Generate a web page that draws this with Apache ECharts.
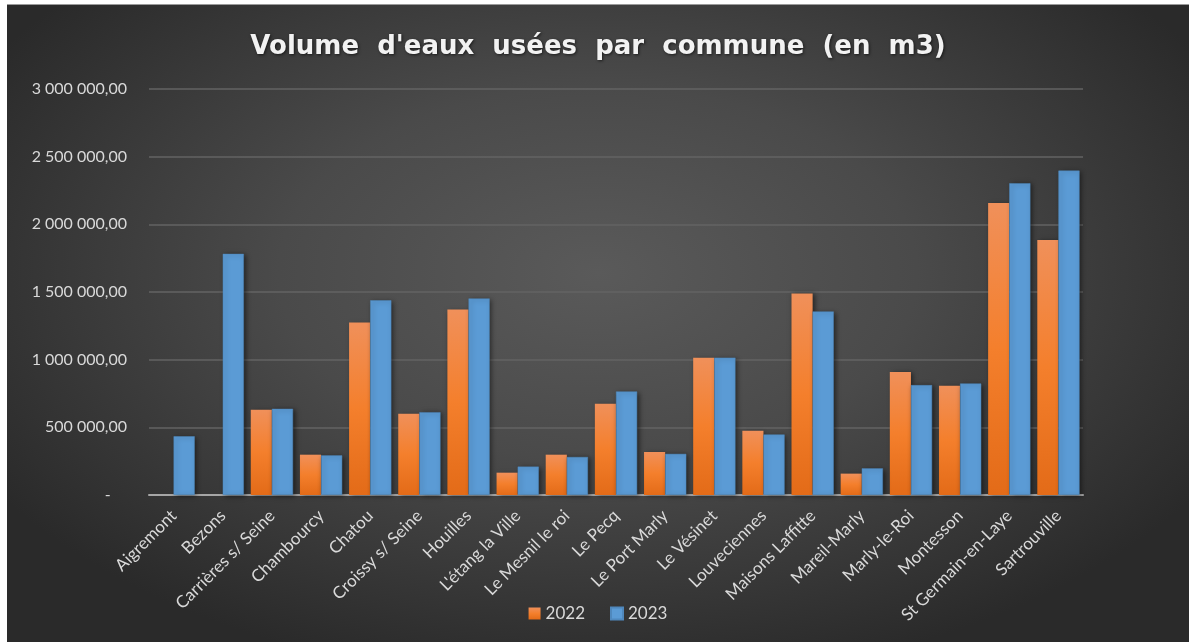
<!DOCTYPE html>
<html>
<head>
<meta charset="utf-8">
<script src="https://cdn.jsdelivr.net/npm/echarts@6/dist/echarts.min.js"></script>
<style>
  html, body { margin: 0; padding: 0; background: #fff; }
  #chart {
    position: absolute; left: 7px; top: 4px; width: 1182px; height: 638px;
    border-top: 1px solid #9a9a9a;
    background: radial-gradient(ellipse 60% 65% at 50% 42%, #5a5a5a 0%, #4a4a4a 45%, #2a2a2a 100%);
  }
</style>
</head>
<body>
<div id="chart"></div>
<script>
const communes = ['Aigremont', 'Bezons', 'Carrières s/ Seine', 'Chambourcy', 'Chatou', 'Croissy s/ Seine',
  'Houilles', "L'étang la Ville", 'Le Mesnil le roi', 'Le Pecq', 'Le Port Marly', 'Le Vésinet',
  'Louveciennes', 'Maisons Laffitte', 'Mareil-Marly', 'Marly-le-Roi', 'Montesson',
  'St Germain-en-Laye', 'Sartrouville']
const v2022 = [null, null, 630000, 298000, 1274000, 600000, 1370000, 165000, 298000, 674000,
  318000, 1015000, 474000, 1489000, 158000, 908000, 807000, 2158000, 1884000]
const v2023 = [434000, 1782000, 637000, 293000, 1439000, 612000, 1452000, 210000, 281000, 765000,
  304000, 1015000, 447000, 1356000, 197000, 812000, 824000, 2304000, 2397000]
const yTicks = [0, 500000, 1000000, 1500000, 2000000, 2500000, 3000000]

function fmt(v) {
  if (v === 0) return '-    '
  return String(v).replace(/\B(?=(\d{3})+(?!\d))/g, ' ') + ',00'
}

const chart = echarts.init(document.getElementById('chart'))
const shadow = { shadowBlur: 5, shadowColor: 'rgba(0,0,0,0.55)', shadowOffsetX: 2, shadowOffsetY: 1 }
chart.setOption({
  backgroundColor: 'transparent',
  animation: false,
  title: {
    text: "Volume  d'eaux  usées  par  commune  (en  m3)",
    left: 'center',
    top: 24,
    textStyle: {
      color: '#f2f2f2', fontFamily: 'DejaVu Sans', fontWeight: 'bold', fontSize: 26,
      textShadowColor: 'rgba(0,0,0,0.6)', textShadowBlur: 3, textShadowOffsetX: 1, textShadowOffsetY: 1,
    },
  },
  legend: {
    bottom: 16,
    left: 'center',
    itemWidth: 12,
    itemHeight: 12,
    itemGap: 25,
    icon: 'rect',
    textStyle: { color: '#d9d9d9', fontFamily: 'Lato', fontSize: 17 },
    data: ['2022', '2023'],
  },
  grid: { left: 142, right: 106, top: 84, bottom: 148 },
  xAxis: {
    type: 'category',
    data: communes,
    axisLine: { lineStyle: { color: '#a6a6a6', width: 2 } },
    axisTick: { show: false },
    axisLabel: {
      interval: 0, rotate: 45, color: '#d9d9d9', fontFamily: 'Lato', fontSize: 17, margin: 18,
    },
  },
  yAxis: {
    type: 'value',
    min: 0,
    max: 3000000,
    interval: 500000,
    axisLine: { show: false },
    axisTick: { show: false },
    splitLine: { lineStyle: { color: '#636363', width: 1.5 } },
    axisLabel: {
      color: '#d9d9d9', fontFamily: 'Lato', fontSize: 16, margin: 22,
      formatter: v => yTicks.includes(v) ? fmt(v) : '',
    },
  },
  series: [
    {
      name: '2022',
      type: 'bar',
      data: v2022,
      barGap: '0%',
      barCategoryGap: '14%',
      itemStyle: {
        color: new echarts.graphic.LinearGradient(0, 0, 0, 1, [
          { offset: 0, color: '#f0905a' }, { offset: 0.5, color: '#f47f2c' }, { offset: 1, color: '#e36b18' },
        ]),
        ...shadow,
      },
    },
    {
      name: '2023',
      type: 'bar',
      data: v2023,
      itemStyle: { color: '#5b9bd5', borderColor: '#4f88bd', borderWidth: 0.5, ...shadow },
    },
  ],
})
</script>
</body>
</html>
